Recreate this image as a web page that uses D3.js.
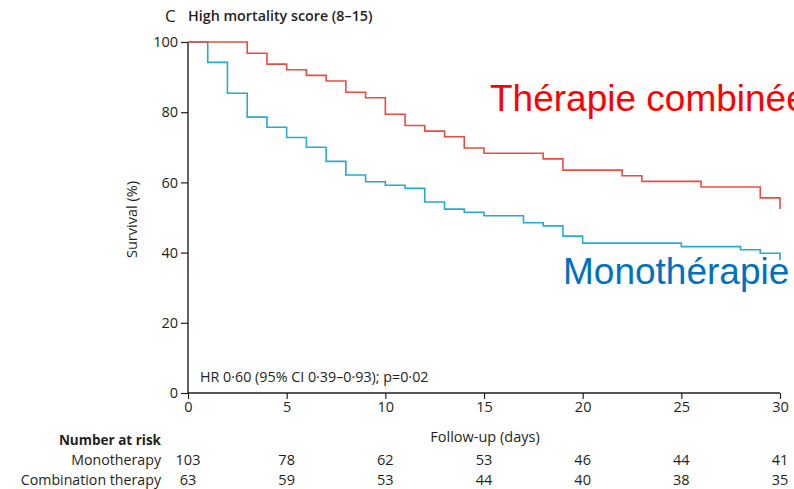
<!DOCTYPE html>
<html>
<head>
<meta charset="utf-8">
<script src="https://cdn.jsdelivr.net/npm/d3@7"></script>
<style>
  html, body { margin: 0; padding: 0; background: #fff; overflow: hidden; }
  svg { display: block; }
  .lbl { font-family: "Open Sans", sans-serif; fill: #231f20; }
</style>
</head>
<body>
<svg id="chart" width="794" height="489"></svg>
<script>
// Kaplan–Meier estimates (survival %, step after each day)
const combTimes = [0, 3, 4, 5, 6, 7, 8, 9, 10, 11, 12, 13, 14, 15, 18, 19, 22, 23, 26, 29, 30];
const combSurv  = [100, 96.8, 93.7, 92.1, 90.5, 88.9, 85.7, 84.1, 79.4, 76.2, 74.6, 73.0, 69.8, 68.3, 66.7, 63.5, 61.9, 60.3, 58.7, 55.6, 52.4];
const monoTimes = [0, 1, 2, 3, 4, 5, 6, 7, 8, 9, 10, 11, 12, 13, 14, 15, 17, 18, 19, 20, 25, 28, 29, 30];
const monoSurv  = [100, 94.2, 85.4, 78.6, 75.7, 72.8, 70.0, 66.0, 62.1, 60.2, 59.2, 58.3, 54.4, 52.4, 51.5, 50.5, 48.5, 47.6, 44.7, 42.7, 41.7, 40.8, 39.8, 37.9];

// Number-at-risk table
const riskDays = [0, 5, 10, 15, 20, 25, 30];
const riskMono = [103, 78, 62, 53, 46, 44, 41];
const riskComb = [63, 59, 53, 44, 40, 38, 35];

const xTicks = [0, 5, 10, 15, 20, 25, 30];
const yTicks = [0, 20, 40, 60, 80, 100];

const svg = d3.select("#chart");
const x = d3.scaleLinear().domain([0, 30]).range([188, 780]);
const y = d3.scaleLinear().domain([0, 100]).range([393, 42]);

// axes
const yAxis = svg.append("g")
  .attr("transform", `translate(${x(0)},0)`)
  .call(d3.axisLeft(y).tickValues(yTicks).tickSize(7).tickPadding(3));
const xAxis = svg.append("g")
  .attr("transform", `translate(0,${y(0)})`)
  .call(d3.axisBottom(x).tickValues(xTicks).tickSize(6).tickPadding(3));
[yAxis, xAxis].forEach(g => {
  g.select(".domain").attr("stroke", "#231f20").attr("stroke-width", 1.4);
  g.selectAll(".tick line").attr("stroke", "#231f20").attr("stroke-width", 1.2);
  g.selectAll(".tick text").attr("class", "lbl").attr("font-size", 14.5);
});
yAxis.select(".domain").attr("d", `M0,${y(100)}V${y(0)}`);
xAxis.select(".domain").attr("d", `M${x(0)},0H${x(30)}`);

// survival curves
const line = d3.line().x(d => x(d[0])).y(d => y(d[1])).curve(d3.curveStepAfter);
const combPts = combTimes.map((t, i) => [t, combSurv[i]]);
const monoPts = monoTimes.map((t, i) => [t, monoSurv[i]]);
// last drop at day 30 is shown as a vertical tick down
combPts.splice(combPts.length - 1, 0, [30, combSurv[combSurv.length - 2]]);
monoPts.splice(monoPts.length - 1, 0, [30, monoSurv[monoSurv.length - 2]]);
svg.append("path").datum(monoPts).attr("d", line)
  .attr("fill", "none").attr("stroke", "#26aacf").attr("stroke-width", 1.6);
svg.append("path").datum(combPts).attr("d", line)
  .attr("fill", "none").attr("stroke", "#f04a40").attr("stroke-width", 1.6);

// title
svg.append("text").attr("class", "lbl").attr("x", 165).attr("y", 22)
  .attr("font-size", 17).text("C");
svg.append("text").attr("class", "lbl").attr("x", 188).attr("y", 21)
  .attr("font-size", 14.3).attr("font-weight", 600).text("High mortality score (8–15)");

// axis titles
svg.append("text").attr("class", "lbl").attr("font-size", 14.5)
  .attr("transform", `translate(137,${y(50) + 2}) rotate(-90)`)
  .attr("text-anchor", "middle").text("Survival (%)");
svg.append("text").attr("class", "lbl").attr("font-size", 14.5)
  .attr("x", 485).attr("y", 442).attr("text-anchor", "middle").text("Follow-up (days)");

// hazard ratio note
svg.append("text").attr("class", "lbl").attr("font-size", 14.3)
  .attr("x", 200).attr("y", 382).text("HR 0·60 (95% CI 0·39–0·93); p=0·02");

// series labels
svg.append("text").attr("x", 490).attr("y", 111)
  .attr("font-family", "Liberation Sans, Arial, sans-serif").attr("font-size", 37)
  .attr("fill", "#ff0000").text("Thérapie combinée");
svg.append("text").attr("x", 563).attr("y", 284)
  .attr("font-family", "Liberation Sans, Arial, sans-serif").attr("font-size", 37)
  .attr("fill", "#0070c0").text("Monothérapie");

// number at risk
svg.append("text").attr("class", "lbl").attr("font-size", 13.5).attr("font-weight", 700)
  .attr("x", 161).attr("y", 445).attr("text-anchor", "end").text("Number at risk");
const rows = [["Monotherapy", riskMono, 465], ["Combination therapy", riskComb, 485]];
rows.forEach(([name, vals, yy]) => {
  svg.append("text").attr("class", "lbl").attr("font-size", 14.2)
    .attr("x", 161).attr("y", yy).attr("text-anchor", "end").text(name);
  svg.selectAll(null).data(vals).enter().append("text")
    .attr("class", "lbl").attr("font-size", 14.5)
    .attr("x", (d, i) => x(riskDays[i])).attr("y", yy)
    .attr("text-anchor", "middle").text(d => d);
});
</script>
</body>
</html>
